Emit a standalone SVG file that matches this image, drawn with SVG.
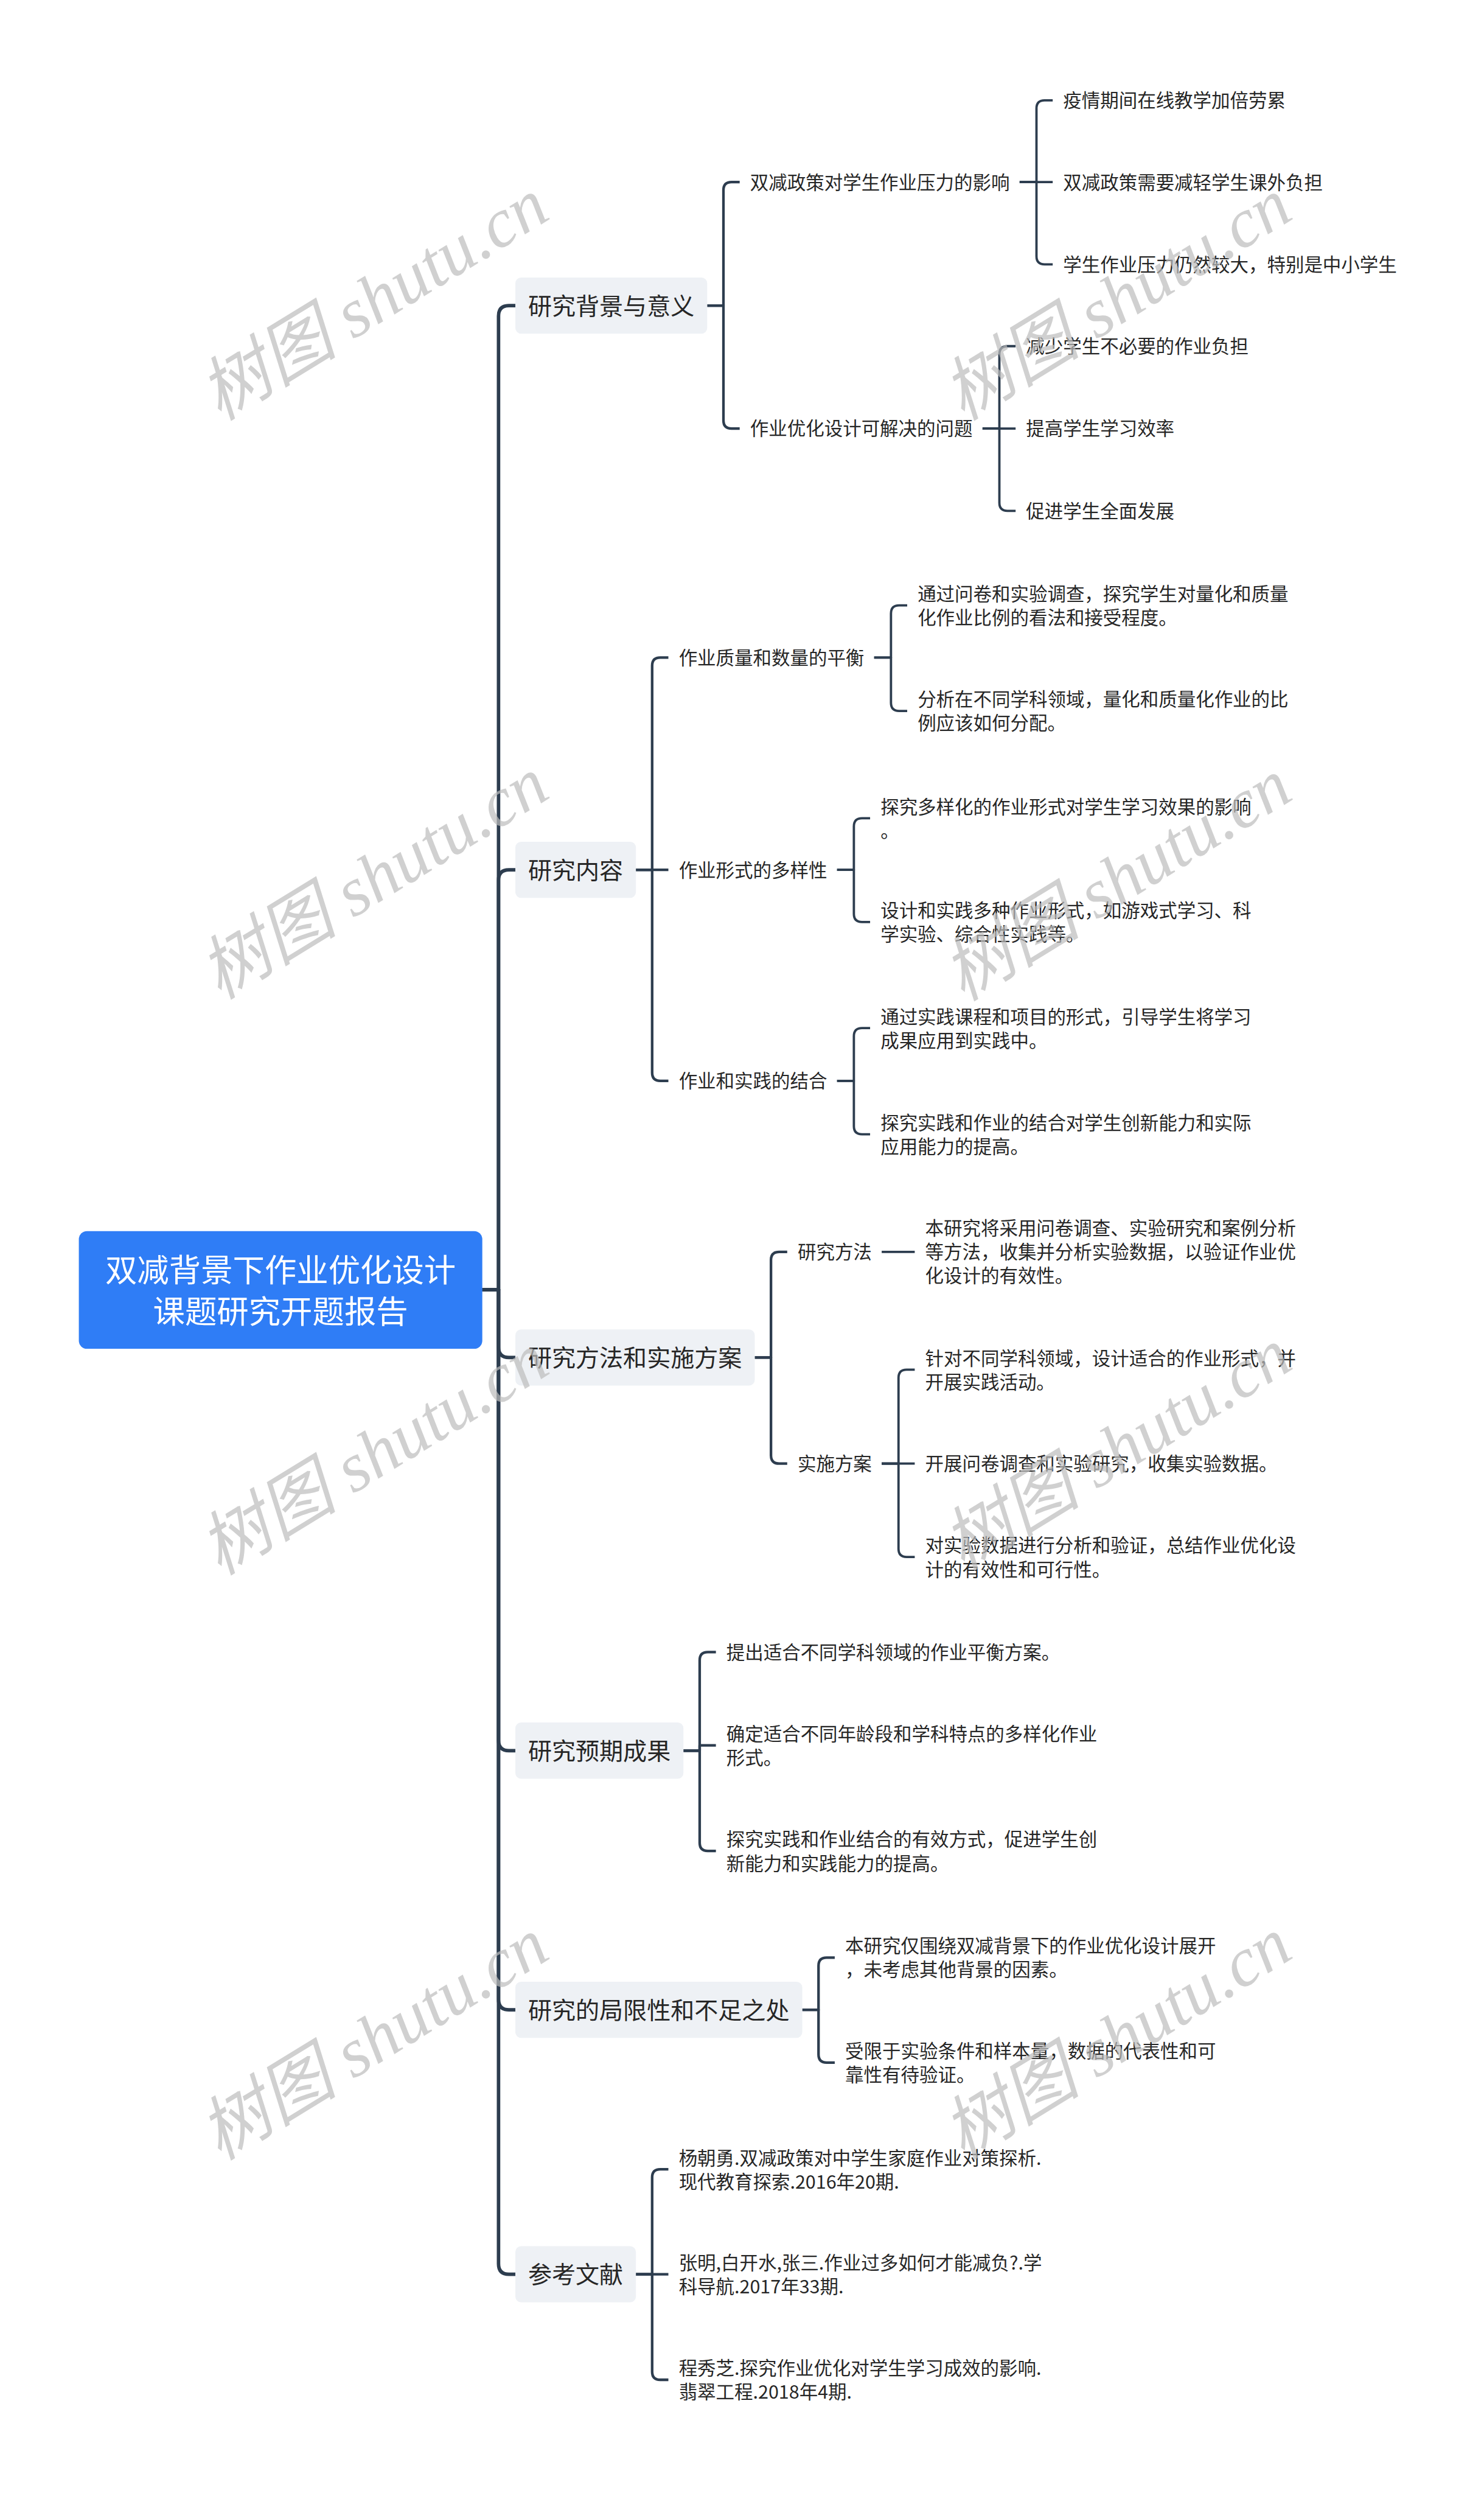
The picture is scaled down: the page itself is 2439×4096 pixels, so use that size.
<svg xmlns="http://www.w3.org/2000/svg" width="2439" height="4096" viewBox="0 0 2439 4096">
<style>
.c{fill:none;stroke:#2d3d4f;stroke-linecap:butt;stroke-linejoin:round}
.c1{stroke-width:6}
.c2{stroke-width:4.5}
.c3{stroke-width:4}
text{font-family:"Noto Sans CJK SC","Noto Sans",sans-serif;fill:#262626}
.t1{font-size:41px}
.t2{font-size:32px}
.box{fill:#eef1f5}
.rt{font-size:55px;fill:#ffffff;text-anchor:middle}
.wm{font-family:"Liberation Serif","Noto Sans CJK SC",serif;font-style:italic;font-size:120px;fill:#bdbdbd;opacity:0.7;text-anchor:middle}
</style>
<rect x="0" y="0" width="2439" height="4096" fill="#ffffff"/>
<g transform="scale(0.95273)">
<g id="connectors">
<path class="c c1" d="M832,2224 H860 V545 Q860,527 878,527 H889"/>
<path class="c c1" d="M832,2224 H860 V1518 Q860,1500 878,1500 H889"/>
<path class="c c1" d="M832,2224 H860 V2323 Q860,2341 878,2341 H889"/>
<path class="c c1" d="M832,2224 H860 V3001 Q860,3019 878,3019 H889"/>
<path class="c c1" d="M832,2224 H860 V3448 Q860,3466 878,3466 H889"/>
<path class="c c1" d="M832,2224 H860 V3904 Q860,3922 878,3922 H889"/>
<path class="c c2" d="M1220,527 H1248 V328 Q1248,314 1262,314 H1276"/>
<path class="c c2" d="M1220,527 H1248 V725 Q1248,739 1262,739 H1276"/>
<path class="c c3" d="M1759,314 H1788 V187 Q1788,173 1802,173 H1816"/>
<path class="c c3" d="M1759,314 H1816"/>
<path class="c c3" d="M1759,314 H1788 V442 Q1788,456 1802,456 H1816"/>
<path class="c c3" d="M1695,739 H1724 V611 Q1724,597 1738,597 H1752"/>
<path class="c c3" d="M1695,739 H1752"/>
<path class="c c3" d="M1695,739 H1724 V867 Q1724,881 1738,881 H1752"/>
<path class="c c2" d="M1097,1500 H1125 V1148 Q1125,1134 1139,1134 H1153"/>
<path class="c c2" d="M1097,1500 H1153"/>
<path class="c c2" d="M1097,1500 H1125 V1850 Q1125,1864 1139,1864 H1153"/>
<path class="c c3" d="M1508,1134 H1537 V1058 Q1537,1044 1551,1044 H1565"/>
<path class="c c3" d="M1508,1134 H1537 V1212 Q1537,1226 1551,1226 H1565"/>
<path class="c c3" d="M1444,1500 H1473 V1425 Q1473,1411 1487,1411 H1501"/>
<path class="c c3" d="M1444,1500 H1473 V1576 Q1473,1590 1487,1590 H1501"/>
<path class="c c3" d="M1444,1864 H1473 V1787 Q1473,1773 1487,1773 H1501"/>
<path class="c c3" d="M1444,1864 H1473 V1942 Q1473,1956 1487,1956 H1501"/>
<path class="c c2" d="M1302,2341 H1330 V2173 Q1330,2159 1344,2159 H1358"/>
<path class="c c2" d="M1302,2341 H1330 V2510 Q1330,2524 1344,2524 H1358"/>
<path class="c c3" d="M1521,2159 H1578"/>
<path class="c c3" d="M1521,2524 H1550 V2376 Q1550,2362 1564,2362 H1578"/>
<path class="c c3" d="M1521,2524 H1578"/>
<path class="c c3" d="M1521,2524 H1550 V2671 Q1550,2685 1564,2685 H1578"/>
<path class="c c2" d="M1179,3019 H1207 V2863 Q1207,2849 1221,2849 H1235"/>
<path class="c c2" d="M1179,3019 H1207 V3010 H1235"/>
<path class="c c2" d="M1179,3019 H1207 V3178 Q1207,3192 1221,3192 H1235"/>
<path class="c c2" d="M1384,3466 H1412 V3390 Q1412,3376 1426,3376 H1440"/>
<path class="c c2" d="M1384,3466 H1412 V3543 Q1412,3557 1426,3557 H1440"/>
<path class="c c2" d="M1097,3922 H1125 V3755 Q1125,3741 1139,3741 H1153"/>
<path class="c c2" d="M1097,3922 H1153"/>
<path class="c c2" d="M1097,3922 H1125 V4090 Q1125,4104 1139,4104 H1153"/>
</g>
<g id="root">
<rect x="136" y="2123" width="696" height="203" rx="14" fill="#2f7df6"/>
<text class="rt" x="484" y="2210">双减背景下作业优化设计</text>
<text class="rt" x="484" y="2282">课题研究开题报告</text>
</g>
<g id="n1">
<rect class="box" x="889" y="478.5" width="331" height="97" rx="10"/>
<text class="t1" x="911" y="542.5">研究背景与意义</text>
</g>
<g id="n1-1"><text class="t2" x="1294" y="326">双减政策对学生作业压力的影响</text></g>
<g id="n1-1-1"><text class="t2" x="1834" y="185">疫情期间在线教学加倍劳累</text></g>
<g id="n1-1-2"><text class="t2" x="1834" y="326">双减政策需要减轻学生课外负担</text></g>
<g id="n1-1-3"><text class="t2" x="1834" y="468">学生作业压力仍然较大，特别是中小学生</text></g>
<g id="n1-2"><text class="t2" x="1294" y="751">作业优化设计可解决的问题</text></g>
<g id="n1-2-1"><text class="t2" x="1770" y="609">减少学生不必要的作业负担</text></g>
<g id="n1-2-2"><text class="t2" x="1770" y="751">提高学生学习效率</text></g>
<g id="n1-2-3"><text class="t2" x="1770" y="893">促进学生全面发展</text></g>
<g id="n2">
<rect class="box" x="889" y="1451.5" width="208" height="97" rx="10"/>
<text class="t1" x="911" y="1515.5">研究内容</text>
</g>
<g id="n2-1"><text class="t2" x="1171" y="1146">作业质量和数量的平衡</text></g>
<g id="n2-1-1"><text class="t2" x="1583" y="1036">通过问卷和实验调查，探究学生对量化和质量</text><text class="t2" x="1583" y="1077">化作业比例的看法和接受程度。</text></g>
<g id="n2-1-2"><text class="t2" x="1583" y="1218">分析在不同学科领域，量化和质量化作业的比</text><text class="t2" x="1583" y="1259">例应该如何分配。</text></g>
<g id="n2-2"><text class="t2" x="1171" y="1512">作业形式的多样性</text></g>
<g id="n2-2-1"><text class="t2" x="1519" y="1403">探究多样化的作业形式对学生学习效果的影响</text><text class="t2" x="1519" y="1444">。</text></g>
<g id="n2-2-2"><text class="t2" x="1519" y="1582">设计和实践多种作业形式，如游戏式学习、科</text><text class="t2" x="1519" y="1623">学实验、综合性实践等。</text></g>
<g id="n2-3"><text class="t2" x="1171" y="1876">作业和实践的结合</text></g>
<g id="n2-3-1"><text class="t2" x="1519" y="1765">通过实践课程和项目的形式，引导学生将学习</text><text class="t2" x="1519" y="1806">成果应用到实践中。</text></g>
<g id="n2-3-2"><text class="t2" x="1519" y="1948">探究实践和作业的结合对学生创新能力和实际</text><text class="t2" x="1519" y="1989">应用能力的提高。</text></g>
<g id="n3">
<rect class="box" x="889" y="2292.5" width="413" height="97" rx="10"/>
<text class="t1" x="911" y="2356.5">研究方法和实施方案</text>
</g>
<g id="n3-1"><text class="t2" x="1376" y="2171">研究方法</text></g>
<g id="n3-1-1"><text class="t2" x="1596" y="2130">本研究将采用问卷调查、实验研究和案例分析</text><text class="t2" x="1596" y="2171">等方法，收集并分析实验数据，以验证作业优</text><text class="t2" x="1596" y="2212">化设计的有效性。</text></g>
<g id="n3-2"><text class="t2" x="1376" y="2536">实施方案</text></g>
<g id="n3-2-1"><text class="t2" x="1596" y="2354">针对不同学科领域，设计适合的作业形式，并</text><text class="t2" x="1596" y="2395">开展实践活动。</text></g>
<g id="n3-2-2"><text class="t2" x="1596" y="2536">开展问卷调查和实验研究，收集实验数据。</text></g>
<g id="n3-2-3"><text class="t2" x="1596" y="2677">对实验数据进行分析和验证，总结作业优化设</text><text class="t2" x="1596" y="2718">计的有效性和可行性。</text></g>
<g id="n4">
<rect class="box" x="889" y="2970.5" width="290" height="97" rx="10"/>
<text class="t1" x="911" y="3034.5">研究预期成果</text>
</g>
<g id="n4-1"><text class="t2" x="1253" y="2861">提出适合不同学科领域的作业平衡方案。</text></g>
<g id="n4-2"><text class="t2" x="1253" y="3002">确定适合不同年龄段和学科特点的多样化作业</text><text class="t2" x="1253" y="3043">形式。</text></g>
<g id="n4-3"><text class="t2" x="1253" y="3184">探究实践和作业结合的有效方式，促进学生创</text><text class="t2" x="1253" y="3225">新能力和实践能力的提高。</text></g>
<g id="n5">
<rect class="box" x="889" y="3417.5" width="495" height="97" rx="10"/>
<text class="t1" x="911" y="3481.5">研究的局限性和不足之处</text>
</g>
<g id="n5-1"><text class="t2" x="1458" y="3367">本研究仅围绕双减背景下的作业优化设计展开</text><text class="t2" x="1458" y="3408">，未考虑其他背景的因素。</text></g>
<g id="n5-2"><text class="t2" x="1458" y="3549">受限于实验条件和样本量，数据的代表性和可</text><text class="t2" x="1458" y="3590">靠性有待验证。</text></g>
<g id="n6">
<rect class="box" x="889" y="3873.5" width="208" height="97" rx="10"/>
<text class="t1" x="911" y="3937.5">参考文献</text>
</g>
<g id="n6-1"><text class="t2" x="1171" y="3733">杨朝勇.双减政策对中学生家庭作业对策探析.</text><text class="t2" x="1171" y="3774">现代教育探索.2016年20期.</text></g>
<g id="n6-2"><text class="t2" x="1171" y="3914">张明,白开水,张三.作业过多如何才能减负?.学</text><text class="t2" x="1171" y="3955">科导航.2017年33期.</text></g>
<g id="n6-3"><text class="t2" x="1171" y="4096">程秀芝.探究作业优化对学生学习成效的影响.</text><text class="t2" x="1171" y="4137">翡翠工程.2018年4期.</text></g>
<g id="watermarks">
<text class="wm" transform="translate(645,517) rotate(-31.5)" x="0" y="40">树图 shutu.cn</text>
<text class="wm" transform="translate(1927,517) rotate(-31.5)" x="0" y="40">树图 shutu.cn</text>
<text class="wm" transform="translate(645,1515) rotate(-31.5)" x="0" y="40">树图 shutu.cn</text>
<text class="wm" transform="translate(1927,1518) rotate(-31.5)" x="0" y="40">树图 shutu.cn</text>
<text class="wm" transform="translate(645,2508) rotate(-31.5)" x="0" y="40">树图 shutu.cn</text>
<text class="wm" transform="translate(1927,2500) rotate(-31.5)" x="0" y="40">树图 shutu.cn</text>
<text class="wm" transform="translate(645,3517) rotate(-31.5)" x="0" y="40">树图 shutu.cn</text>
<text class="wm" transform="translate(1927,3516) rotate(-31.5)" x="0" y="40">树图 shutu.cn</text>
</g>
</g>
</svg>
